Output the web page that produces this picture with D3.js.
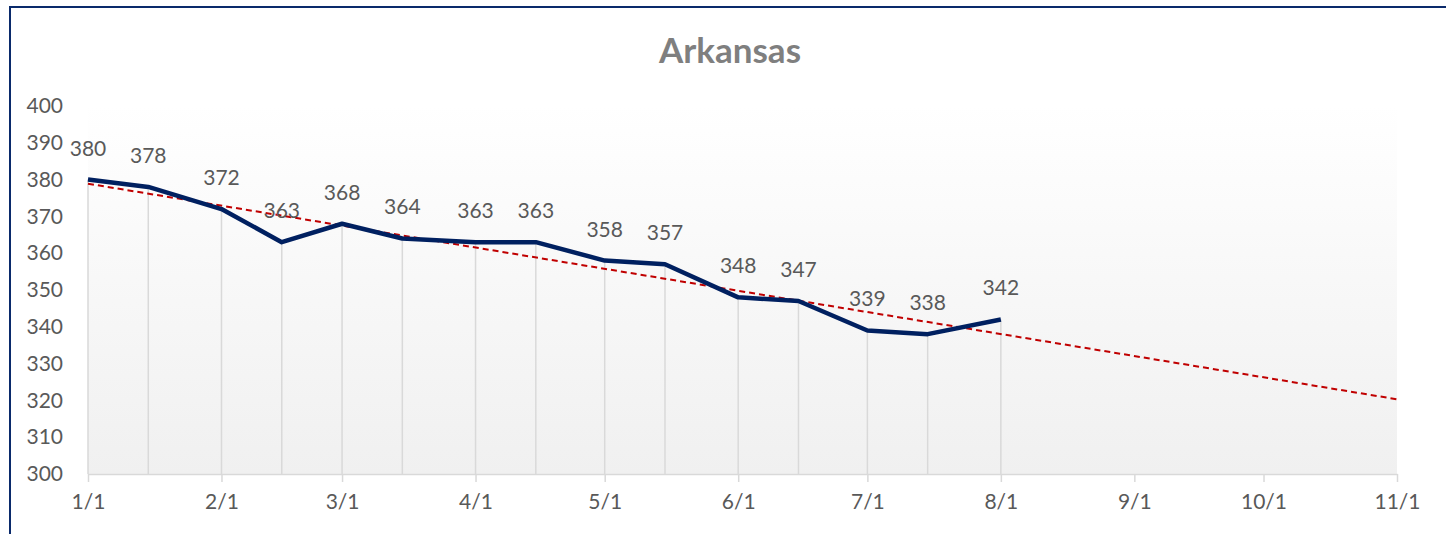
<!DOCTYPE html>
<html>
<head>
<meta charset="utf-8">
<script src="https://cdn.jsdelivr.net/npm/d3@7"></script>
<style>
  html, body { margin: 0; padding: 0; background: #ffffff; }
  svg { display: block; }
  text { font-family: Lato, "Open Sans", sans-serif; }
</style>
</head>
<body>
<svg id="chart" width="1446" height="534"></svg>
<script>
const title = "Arkansas";
const dates = ["2021-01-01","2021-01-15","2021-02-01","2021-02-15","2021-03-01","2021-03-15","2021-04-01","2021-04-15","2021-05-01","2021-05-15","2021-06-01","2021-06-15","2021-07-01","2021-07-15","2021-08-01"];
const values = [380, 378, 372, 363, 368, 364, 363, 363, 358, 357, 348, 347, 339, 338, 342];
const xTickDates = ["2021-01-01","2021-02-01","2021-03-01","2021-04-01","2021-05-01","2021-06-01","2021-07-01","2021-08-01","2021-09-01","2021-10-01","2021-11-01"];
const yTicks = [300, 310, 320, 330, 340, 350, 360, 370, 380, 390, 400];
const xDomain = ["2021-01-01", "2021-11-01"];
const yDomain = [300, 400];

const parse = d3.utcParse("%Y-%m-%d");
const data = dates.map((d, i) => ({ date: parse(d), value: values[i] }));

const svg = d3.select("#chart");
const W = 1446, H = 534;
const plot = { left: 88, right: 1397, top: 106, bottom: 474 };

// outer border
svg.append("rect").attr("x", 10).attr("y", 7).attr("width", W + 20).attr("height", H + 20)
  .attr("fill", "#ffffff").attr("stroke", "#0a2a6b").attr("stroke-width", 2);

const x = d3.scaleUtc().domain(xDomain.map(parse)).range([plot.left, plot.right]);
const y = d3.scaleLinear().domain(yDomain).range([plot.bottom, plot.top]);

// plot background gradient
const defs = svg.append("defs");
const grad = defs.append("linearGradient").attr("id", "bg").attr("x1", 0).attr("y1", 0).attr("x2", 0).attr("y2", 1);
grad.append("stop").attr("offset", "0%").attr("stop-color", "#ffffff");
grad.append("stop").attr("offset", "100%").attr("stop-color", "#f0f0f0");
svg.append("rect").attr("x", plot.left).attr("y", plot.top)
  .attr("width", plot.right - plot.left).attr("height", plot.bottom - plot.top)
  .attr("fill", "url(#bg)");

// title
svg.append("text").attr("x", 730).attr("y", 63)
  .attr("text-anchor", "middle").attr("font-size", 35).attr("font-weight", "bold")
  .attr("fill", "#7f7f7f").text(title);

// drop lines
svg.append("g").selectAll("line").data(data).join("line")
  .attr("x1", d => x(d.date)).attr("x2", d => x(d.date))
  .attr("y1", d => y(d.value)).attr("y2", y(yDomain[0]))
  .attr("stroke", "#d9d9d9").attr("stroke-width", 1.5);

// x axis
const xAxis = d3.axisBottom(x)
  .tickValues(xTickDates.map(parse))
  .tickFormat(d => (d.getUTCMonth() + 1) + "/" + d.getUTCDate())
  .tickSize(8).tickSizeOuter(0).tickPadding(12);
const gx = svg.append("g").attr("transform", `translate(0,${plot.bottom})`).call(xAxis);
gx.select(".domain").attr("stroke", "#d9d9d9").attr("stroke-width", 1.5);
gx.selectAll(".tick line").attr("stroke", "#d9d9d9").attr("stroke-width", 1.5);
gx.selectAll(".tick text").attr("fill", "#595959").attr("font-size", 21).attr("font-family", "Lato, sans-serif");

// y axis (labels only)
const yAxis = d3.axisLeft(y).tickValues(yTicks).tickSize(0).tickPadding(25);
const gy = svg.append("g").attr("transform", `translate(${plot.left},0)`).call(yAxis);
gy.select(".domain").remove();
gy.selectAll(".tick text").attr("fill", "#595959").attr("font-size", 21).attr("font-family", "Lato, sans-serif");

// trend line (least squares on day number)
const t0 = parse(xDomain[0]);
const dayOf = d => (d - t0) / 86400000;
const xs = data.map(d => dayOf(d.date));
const mx = d3.mean(xs), my = d3.mean(values);
const slope = d3.sum(xs.map((xi, i) => (xi - mx) * (values[i] - my))) / d3.sum(xs.map(xi => (xi - mx) ** 2));
const intercept = my - slope * mx;
const tEnd = parse(xDomain[1]);
const trend = [t0, tEnd].map(t => ({ date: t, value: intercept + slope * dayOf(t) }));
svg.append("path").datum(trend)
  .attr("d", d3.line().x(d => x(d.date)).y(d => y(d.value)))
  .attr("fill", "none").attr("stroke", "#c00000").attr("stroke-width", 2)
  .attr("stroke-dasharray", "6,4");

// main line
svg.append("path").datum(data)
  .attr("d", d3.line().x(d => x(d.date)).y(d => y(d.value)))
  .attr("fill", "none").attr("stroke", "#002060").attr("stroke-width", 4.5)
  .attr("stroke-linejoin", "round");

// data labels
svg.append("g").selectAll("text").data(data).join("text")
  .attr("x", d => x(d.date)).attr("y", d => y(d.value) - 24)
  .attr("text-anchor", "middle").attr("font-size", 21)
  .attr("fill", "#595959").text(d => d.value);
</script>
</body>
</html>
